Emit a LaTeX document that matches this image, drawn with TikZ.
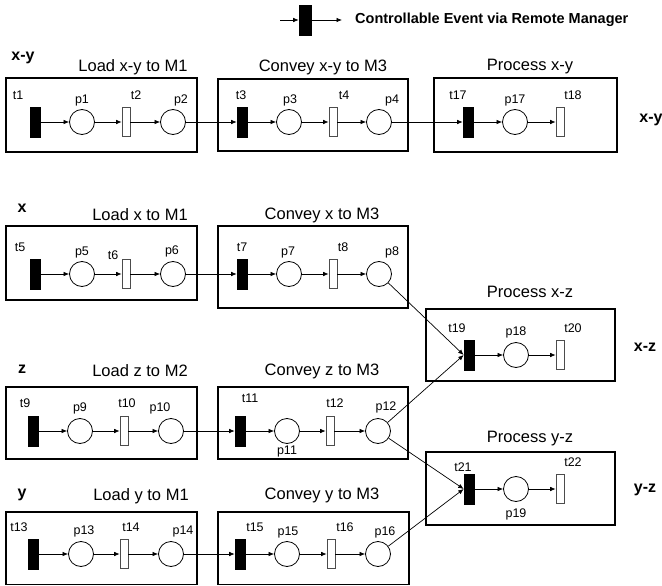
\documentclass[tikz,border=0pt]{standalone}
\usepackage{fontspec}
\setmainfont{Liberation Sans}
\usetikzlibrary{arrows.meta}
\begin{document}
\begin{tikzpicture}[x=1pt,y=-1pt,
  grp/.style={draw, line width=1.4pt},
  ctr/.style={draw, fill=black, minimum width=10pt, minimum height=30pt, inner sep=0pt, line width=0.6pt},
  unc/.style={draw=black!70, fill=white, minimum width=8pt, minimum height=29pt, inner sep=0pt, line width=0.7pt},
  place/.style={circle, draw, minimum size=25pt, inner sep=0pt, line width=0.8pt},
  arc/.style={-{Latex[length=5.5pt,width=4.5pt]}, line width=0.7pt},
  lbl/.style={font=\fontsize{12.5}{14}\selectfont, inner sep=0pt},
  ttl/.style={font=\fontsize{16.5}{19}\selectfont, inner sep=0pt},
  side/.style={font=\bfseries\fontsize{16}{18}\selectfont, inner sep=0pt}]
\useasboundingbox (0,0) rectangle (662,586);

% ---------- legend ----------
\node[ctr, minimum width=12pt] (lg) at (305,20) {};
\coordinate (lgin) at (280,20);
\coordinate (lgout) at (342,20);
\draw[arc] (lgin) -- (lg.west);
\draw[arc] (lg.east) -- (lgout);
\node[anchor=west, inner sep=0pt, font=\bfseries\fontsize{14.5}{16}\selectfont] (lgtext) at (355,20) {Controllable Event via Remote Manager};

% ---------- x-y ----------
\node[side] (sxy) at (23,58) {x-y};
\node[side] (sxyr) at (651,120) {x-y};
\node[ttl] (ta1) at (133,67) {Load x-y to M1};
\node[ttl] (ta2) at (323,67) {Convey x-y to M3};
\node[ttl] (ta3) at (530,67) {Process x-y};
\draw[grp] (6,78) rectangle (197,152);
\draw[grp] (218,79) rectangle (408,151);
\draw[grp] (434,78) rectangle (617,152);
\node[ctr] (t1) at (35,122) {};
\node[place] (p1) at (82,122) {};
\node[unc] (t2) at (126,122) {};
\node[place] (p2) at (173,122) {};
\node[ctr] (t3) at (242,122) {};
\node[place] (p3) at (289,122) {};
\node[unc] (t4) at (333,122) {};
\node[place] (p4) at (379,122) {};
\node[ctr] (t17) at (468,122) {};
\node[place] (p17) at (515,122) {};
\node[unc] (t18) at (560,122) {};
\node[lbl] (lt1) at (18,95) {t1};
\node[lbl] (lp1) at (82,100) {p1};
\node[lbl] (lt2) at (136,95) {t2};
\node[lbl] (lp2) at (181,100) {p2};
\node[lbl] (lt3) at (241,95) {t3};
\node[lbl] (lp3) at (290,100) {p3};
\node[lbl] (lt4) at (344,95) {t4};
\node[lbl] (lp4) at (392,100) {p4};
\node[lbl] (lt17) at (458,95) {t17};
\node[lbl] (lp17) at (515,100) {p17};
\node[lbl] (lt18) at (573,95) {t18};
\draw[arc] (t1) -- (p1);
\draw[arc] (p1) -- (t2);
\draw[arc] (t2) -- (p2);
\draw[arc] (p2) -- (t3);
\draw[arc] (t3) -- (p3);
\draw[arc] (p3) -- (t4);
\draw[arc] (t4) -- (p4);
\draw[arc] (p4) -- (t17);
\draw[arc] (t17) -- (p17);
\draw[arc] (p17) -- (t18);

% ---------- x ----------
\node[side] (sx) at (22,208) {x};
\node[ttl] (tb1) at (140,215) {Load x to M1};
\node[ttl] (tb2) at (322,215) {Convey x to M3};
\draw[grp] (6,226) rectangle (197,300);
\draw[grp] (218,226) rectangle (408,308);
\node[ctr] (t5) at (35,274) {};
\node[place] (p5) at (82,274) {};
\node[unc] (t6) at (126,274) {};
\node[place] (p6) at (173,274) {};
\node[ctr] (t7) at (242,274) {};
\node[place] (p7) at (289,274) {};
\node[unc] (t8) at (333,274) {};
\node[place] (p8) at (379,274) {};
\node[lbl] (lt5) at (20,247) {t5};
\node[lbl] (lp5) at (82,252) {p5};
\node[lbl] (lt6) at (113,255) {t6};
\node[lbl] (lp6) at (172,251) {p6};
\node[lbl] (lt7) at (242,247) {t7};
\node[lbl] (lp7) at (288,252) {p7};
\node[lbl] (lt8) at (343,247) {t8};
\node[lbl] (lp8) at (392,252) {p8};
\draw[arc] (t5) -- (p5);
\draw[arc] (p5) -- (t6);
\draw[arc] (t6) -- (p6);
\draw[arc] (p6) -- (t7);
\draw[arc] (t7) -- (p7);
\draw[arc] (p7) -- (t8);
\draw[arc] (t8) -- (p8);

% ---------- x-z ----------
\node[ttl] (tc) at (530,292) {Process x-z};
\node[side] (sxz) at (645,347) {x-z};
\draw[grp] (426,309) rectangle (615,381);
\node[ctr] (t19) at (469,355) {};
\node[place] (p18) at (516,355) {};
\node[unc] (t20) at (560,355) {};
\node[lbl] (lt19) at (457,328) {t19};
\node[lbl] (lp18) at (516,332) {p18};
\node[lbl] (lt20) at (573,328) {t20};
\draw[arc] (t19) -- (p18);
\draw[arc] (p18) -- (t20);

% ---------- z ----------
\node[side] (sz) at (22,369) {z};
\node[ttl] (td1) at (140,371) {Load z to M2};
\node[ttl] (td2) at (322,371) {Convey z to M3};
\draw[grp] (6,387) rectangle (197,459);
\draw[grp] (218,387) rectangle (408,459);
\node[ctr] (t9) at (33,431) {};
\node[place] (p9) at (80,431) {};
\node[unc] (t10) at (124,431) {};
\node[place] (p10) at (171,431) {};
\node[ctr] (t11) at (240,431) {};
\node[place] (p11) at (287,431) {};
\node[unc] (t12) at (330,431) {};
\node[place] (p12) at (378,431) {};
\node[lbl] (lt9) at (25,403) {t9};
\node[lbl] (lp9) at (80,408) {p9};
\node[lbl] (lt10) at (127,403) {t10};
\node[lbl] (lp10) at (160,408) {p10};
\node[lbl] (lt11) at (250,398) {t11};
\node[lbl] (lp11) at (287,451) {p11};
\node[lbl] (lt12) at (335,403) {t12};
\node[lbl] (lp12) at (386,407) {p12};
\draw[arc] (t9) -- (p9);
\draw[arc] (p9) -- (t10);
\draw[arc] (t10) -- (p10);
\draw[arc] (p10) -- (t11);
\draw[arc] (t11) -- (p11);
\draw[arc] (p11) -- (t12);
\draw[arc] (t12) -- (p12);

% ---------- y-z ----------
\node[ttl] (te) at (530,439) {Process y-z};
\node[side] (syz) at (645,490) {y-z};
\draw[grp] (426,452) rectangle (615,525);
\node[ctr] (t21) at (469,489) {};
\node[place] (p19) at (516,489) {};
\node[unc] (t22) at (560,489) {};
\node[lbl] (lt21) at (463,467) {t21};
\node[lbl] (lp19) at (516,514) {p19};
\node[lbl] (lt22) at (573,462) {t22};
\draw[arc] (t21) -- (p19);
\draw[arc] (p19) -- (t22);

% ---------- y ----------
\node[side] (sy) at (22,495) {y};
\node[ttl] (tf1) at (141,496) {Load y to M1};
\node[ttl] (tf2) at (322,495) {Convey y to M3};
\draw[grp] (6,512) rectangle (197,584.5);
\draw[grp] (218,512) rectangle (409,584.5);
\node[ctr] (t13) at (33,554) {};
\node[place] (p13) at (81,554) {};
\node[unc] (t14) at (124,554) {};
\node[place] (p14) at (171,554) {};
\node[ctr] (t15) at (240,554) {};
\node[place] (p15) at (287,554) {};
\node[unc] (t16) at (331,554) {};
\node[place] (p16) at (378,554) {};
\node[lbl] (lt13) at (19,527) {t13};
\node[lbl] (lp13) at (84,531) {p13};
\node[lbl] (lt14) at (131,527) {t14};
\node[lbl] (lp14) at (183,531) {p14};
\node[lbl] (lt15) at (255,527) {t15};
\node[lbl] (lp15) at (288,532) {p15};
\node[lbl] (lt16) at (345,527) {t16};
\node[lbl] (lp16) at (385,532) {p16};
\draw[arc] (t13) -- (p13);
\draw[arc] (p13) -- (t14);
\draw[arc] (t14) -- (p14);
\draw[arc] (p14) -- (t15);
\draw[arc] (t15) -- (p15);
\draw[arc] (p15) -- (t16);
\draw[arc] (t16) -- (p16);

% ---------- synchronising arcs ----------
\draw[arc] (p8) -- (t19.west);
\draw[arc] (p12) -- (t19.west);
\draw[arc] (p12) -- (t21.west);
\draw[arc] (p16) -- (t21.west);
\end{tikzpicture}
\end{document}
